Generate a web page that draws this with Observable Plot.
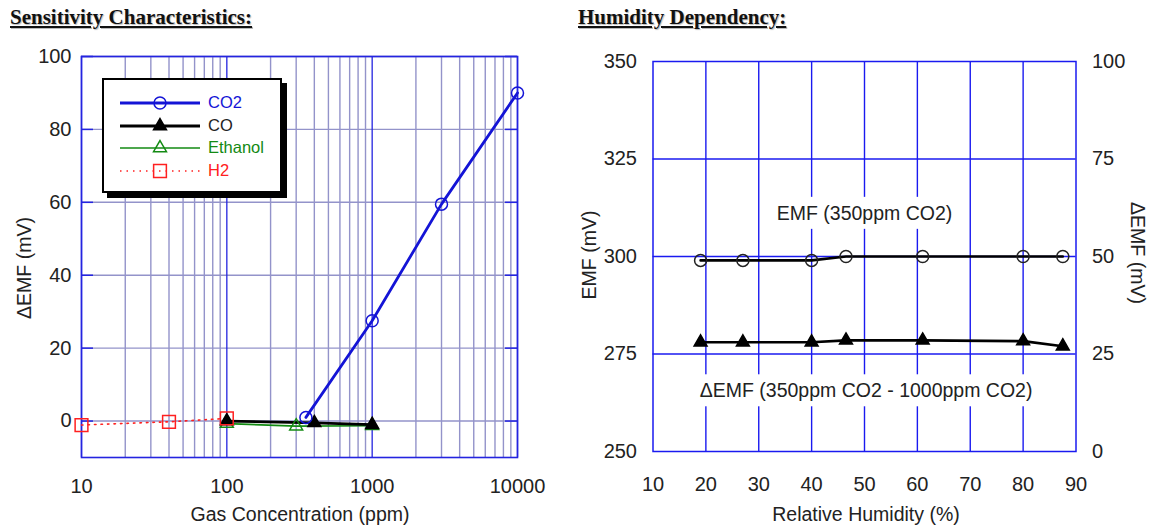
<!DOCTYPE html>
<html>
<head>
<meta charset="utf-8">
<script src="https://cdn.jsdelivr.net/npm/d3@7"></script>
<script src="https://cdn.jsdelivr.net/npm/@observablehq/plot@0.6"></script>
<style>
  html, body { margin: 0; padding: 0; background: #fff; }
  body { width: 1156px; height: 527px; position: relative; overflow: hidden;
         font-family: "Liberation Sans", Arial, sans-serif; color: #222; }
  .abs { position: absolute; }
  .title { font-family: "Liberation Serif", "Times New Roman", serif; font-weight: bold;
           font-size: 21px; text-decoration: underline; color: #111; line-height: 1;
           text-shadow: 1px 1px 1px #bbb; white-space: nowrap; }
  .lab { position: absolute; font-size: 19.5px; line-height: 1; white-space: nowrap;
         transform: translate(-50%, -50%); }
  .rotl { transform: translate(-50%, -50%) rotate(-90deg); }
  .rotr { transform: translate(-50%, -50%) rotate(90deg); }
  #legend { position: absolute; left: 102px; top: 78px; width: 176px; height: 111px;
            border: 2px solid #000; background: #fff; box-shadow: 5px 5px 0 #000; }
  .lrow { position: absolute; left: 0; height: 22px; width: 176px; }
  .lrow svg { position: absolute; left: 0; top: 0; }
  .lrow span { position: absolute; left: 104px; top: 2px; font-size: 16.5px; line-height: 1; }
</style>
</head>
<body>
<div class="abs title" style="left:10px; top:7px;">Sensitivity Characteristics:</div>
<div class="abs title" style="left:578px; top:7px;">Humidity Dependency:</div>
<div id="left" class="abs" style="left:0; top:0;"></div>
<div id="right" class="abs" style="left:560px; top:0;"></div>
<div class="lab rotl" style="left:25px; top:268px;">ΔEMF (mV)</div>
<div class="lab" style="left:300px; top:515px;">Gas Concentration (ppm)</div>
<div class="lab rotl" style="left:590px; top:255px;">EMF (mV)</div>
<div class="lab rotr" style="left:1137px; top:253px;">ΔEMF (mV)</div>
<div class="lab" style="left:866px; top:515px;">Relative Humidity (%)</div>
<div id="legend"></div>

<script>
// ---------- Sensitivity characteristics (left) ----------
const xTicksL = [10, 100, 1000, 10000];
const yTicksL = [0, 20, 40, 60, 80, 100];
const minorMultipliers = [2, 3, 4, 5, 6, 7, 8, 9];

const co2Conc = [350, 1000, 3000, 10000];
const co2Val  = [1, 27.5, 59.5, 90];
const coConc  = [100, 400, 1000];
const coVal   = [0, -0.5, -1.0];
const ethConc = [100, 300, 1000];
const ethVal  = [-0.7, -1.4, -1.3];
const h2Conc  = [10, 40, 100];
const h2Val   = [-1.1, -0.2, 0.7];

// ---------- Humidity dependency (right) ----------
const rhTicks   = [10, 20, 30, 40, 50, 60, 70, 80, 90];
const emfTicks  = [250, 275, 300, 325, 350];
const dEmfOffset = 250;   // ΔEMF 0 aligns with EMF 250 (right axis 0..100)
const rh        = [19, 27, 40, 46.5, 61, 80, 87.5];
const emf350    = [299, 299, 299, 300, 300, 300, 300];
const dEmf      = [28, 28, 28, 28.5, 28.5, 28.3, 27];
const annoText  = ["EMF (350ppm CO2)", "ΔEMF (350ppm CO2 - 1000ppm CO2)"];
const annoX     = [50, 50.3];
const annoY     = [311, 265.5];

const rows = (xs, ys) => xs.map((x, i) => ({x, y: ys[i]}));
const minorL = [];
for (const dec of xTicksL.slice(0, -1)) for (const m of minorMultipliers) minorL.push(dec * m);

const BLUE_GRID = "#2424e0";
const PURPLE = "#9393ca";
const CO2C = "#1414d6", COC = "#000", ETHC = "#138a13", H2C = "#ff2020";
const font = {fontFamily: "'Liberation Sans', Arial, sans-serif", fontSize: "20px", color: "#222", background: "transparent", overflow: "visible"};

const LW = 560, LH = 527, LML = 81, LMR = 43, LMT = 56, LMB = 70;
const innerW = LW - LML - LMR;

const left = Plot.plot({
  width: LW, height: LH,
  marginLeft: LML, marginRight: LMR, marginTop: LMT, marginBottom: LMB,
  x: {type: "log", domain: [10, 10000]},
  y: {domain: [-10, 100]},
  style: font,
  marks: [
    Plot.ruleX(minorL, {stroke: PURPLE, strokeWidth: 1.4}),
    Plot.ruleY(yTicksL, {stroke: PURPLE, strokeWidth: 1.4}),
    Plot.ruleX(xTicksL, {stroke: BLUE_GRID, strokeWidth: 1.3}),
    Plot.tickY(yTicksL, {y: d => d, stroke: BLUE_GRID, strokeWidth: 1.5, insetRight: innerW - 12}),
    Plot.tickY(yTicksL, {y: d => d, stroke: BLUE_GRID, strokeWidth: 1.5, insetLeft: innerW - 12}),
    Plot.frame({stroke: BLUE_GRID, strokeWidth: 1.6}),
    Plot.axisX({ticks: xTicksL, tickFormat: d => String(d), tickSize: 0, tickPadding: 21, label: null}),
    Plot.axisY({ticks: yTicksL, tickSize: 0, tickPadding: 10, label: null}),
    Plot.line(rows(h2Conc, h2Val), {x: "x", y: "y", stroke: H2C, strokeWidth: 1.6, strokeDasharray: "1.5,5"}),
    Plot.line(rows(ethConc, ethVal), {x: "x", y: "y", stroke: ETHC, strokeWidth: 1.6}),
    Plot.line(rows(coConc, coVal), {x: "x", y: "y", stroke: COC, strokeWidth: 2.8}),
    Plot.line(rows(co2Conc, co2Val), {x: "x", y: "y", stroke: CO2C, strokeWidth: 2.8}),
    Plot.dot(rows(ethConc, ethVal), {x: "x", y: "y", symbol: "triangle", r: 4.8, stroke: ETHC, strokeWidth: 1.5, fill: "none"}),
    Plot.dot(rows(coConc, coVal), {x: "x", y: "y", symbol: "triangle", r: 4.8, stroke: COC, fill: COC}),
    Plot.dot(rows(h2Conc, h2Val), {x: "x", y: "y", symbol: "square", r: 7.2, stroke: H2C, strokeWidth: 1.5, fill: "none"}),
    Plot.dot(rows(co2Conc, co2Val), {x: "x", y: "y", symbol: "circle", r: 6, stroke: CO2C, strokeWidth: 1.5, fill: "none"})
  ]
});
document.getElementById("left").appendChild(left);

const RW = 596, RH = 527, RML = 92.5, RMR = 80.5, RMT = 61, RMB = 76;
const emfRows = rows(rh, emf350);
const dRows = rows(rh, dEmf);
const annoRows = annoText.map((t, i) => ({x: annoX[i], y: annoY[i], text: t}));

const right = Plot.plot({
  width: RW, height: RH,
  marginLeft: RML, marginRight: RMR, marginTop: RMT, marginBottom: RMB,
  x: {domain: [10, 90]},
  y: {domain: [250, 350]},
  style: font,
  marks: [
    Plot.ruleX(rhTicks.slice(1, -1), {stroke: "#1a1af0", strokeWidth: 1.4}),
    Plot.ruleY(emfTicks.slice(1, -1), {stroke: "#1a1af0", strokeWidth: 1.4}),
    Plot.frame({stroke: "#1a1af0", strokeWidth: 1.5}),
    Plot.axisX({ticks: rhTicks, tickSize: 0, tickPadding: 25, label: null}),
    Plot.axisY({anchor: "left", ticks: emfTicks, tickSize: 0, tickPadding: 16, label: null}),
    Plot.axisY({anchor: "right", ticks: emfTicks, tickFormat: d => String(d - dEmfOffset), tickSize: 0, tickPadding: 16, label: null}),
    Plot.text(annoRows, {x: "x", y: "y", text: "text", fontSize: 19.5, fill: "#222"}),
    Plot.line(emfRows, {x: "x", y: "y", stroke: "#000", strokeWidth: 2.6}),
    Plot.line(dRows, {x: "x", y: d => d.y + dEmfOffset, stroke: "#000", strokeWidth: 2.6}),
    Plot.dot(emfRows, {x: "x", y: "y", symbol: "circle", r: 6, stroke: "#222", strokeWidth: 1.5, fill: "none"}),
    Plot.dot(dRows, {x: "x", y: d => d.y + dEmfOffset, symbol: "triangle", r: 4.8, stroke: "#000", fill: "#000"})
  ]
});
document.getElementById("right").appendChild(right);

// white boxes behind annotation texts (hide grid lines as in the original)
(function () {
  const g = right.querySelector('g[aria-label="text"]');
  if (!g) return;
  const ns = "http://www.w3.org/2000/svg";
  const bg = document.createElementNS(ns, "g");
  g.querySelectorAll("text").forEach(t => {
    const b = t.getBBox();
    const r = document.createElementNS(ns, "rect");
    r.setAttribute("x", b.x - 3); r.setAttribute("y", b.y - 5);
    r.setAttribute("width", b.width + 6); r.setAttribute("height", b.height + 10);
    r.setAttribute("fill", "#fff");
    const tr = t.getAttribute("transform");
    if (tr) r.setAttribute("transform", tr);
    bg.appendChild(r);
  });
  if (g.getAttribute("transform")) bg.setAttribute("transform", g.getAttribute("transform"));
  g.parentNode.insertBefore(bg, g);
})();

// legend
const legendItems = [
  {name: "CO2", color: CO2C, text: CO2C, width: 2.8, dash: null, symbol: "circle", fill: "none"},
  {name: "CO", color: COC, text: "#222", width: 2.8, dash: null, symbol: "triangle", fill: COC},
  {name: "Ethanol", color: ETHC, text: ETHC, width: 1.6, dash: null, symbol: "triangle", fill: "none"},
  {name: "H2", color: H2C, text: H2C, width: 1.6, dash: "1.5,5", symbol: "square", fill: "none"}
];
const legend = document.getElementById("legend");
legendItems.forEach((it, i) => {
  const row = document.createElement("div");
  row.className = "lrow";
  row.style.top = (12 + i * 22.5) + "px";
  const area = it.symbol === "circle" ? Math.PI * 36 : it.symbol === "square" ? Math.PI * 7.2 * 7.2 : Math.PI * 4.8 * 4.8;
  const sym = d3.symbol(it.symbol === "circle" ? d3.symbolCircle : it.symbol === "square" ? d3.symbolSquare : d3.symbolTriangle, area)();
  row.innerHTML = `<svg width="104" height="22"><line x1="16" x2="96" y1="11" y2="11" stroke="${it.color}" stroke-width="${it.width}" ${it.dash ? `stroke-dasharray="${it.dash}"` : ""}/><path d="${sym}" transform="translate(56,11)" stroke="${it.color}" stroke-width="1.5" fill="${it.fill}"/></svg><span style="color:${it.text}">${it.name}</span>`;
  legend.appendChild(row);
});
</script>
</body>
</html>
